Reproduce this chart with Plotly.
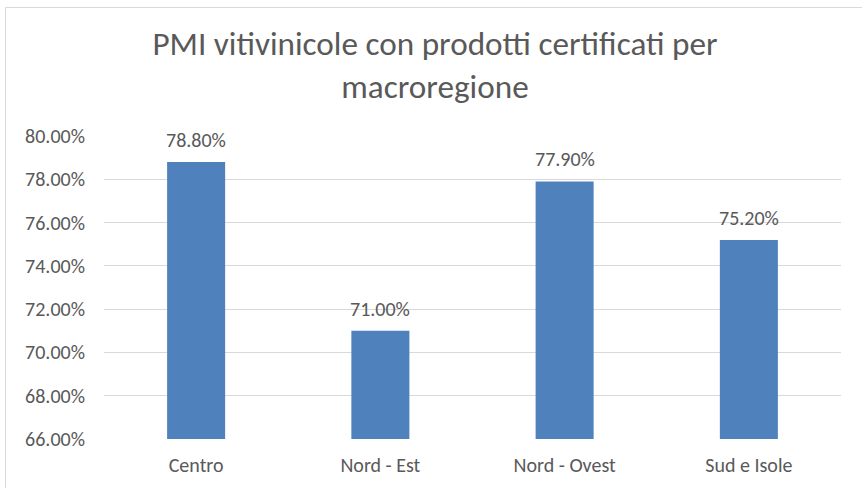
import plotly.graph_objects as go

# Share of wine SMEs with certified products, by macro-region
regions = ["Centro", "Nord - Est", "Nord - Ovest", "Sud e Isole"]
share_pct = [78.80, 71.00, 77.90, 75.20]
tick_values = [66, 68, 70, 72, 74, 76, 78, 80]
tick_labels = [f"{v:.2f}%" for v in tick_values]

W, H = 862, 488
FONT = "Calibri, Carlito, Lato, sans-serif"
TXT = "#595959"

fig = go.Figure(
    go.Bar(
        x=regions,
        y=share_pct,
        marker=dict(color="#4F81BD", line=dict(width=0)),
        cliponaxis=False,
        width=0.315,
    )
)

# value labels above each bar
for r, v in zip(regions, share_pct):
    fig.add_annotation(
        x=r,
        y=v,
        xref="x",
        yref="y",
        text=f"{v:.2f}%",
        showarrow=False,
        yanchor="bottom",
        yshift=8,
        font=dict(family=FONT, size=20, color=TXT),
    )

fig.update_layout(
    width=W,
    height=H,
    margin=dict(l=0, r=0, t=0, b=0, autoexpand=False),
    paper_bgcolor="white",
    plot_bgcolor="white",
    showlegend=False,
    font=dict(family=FONT, size=20, color=TXT),
    title=dict(
        text="PMI vitivinicole con prodotti certificati per<br>macroregione",
        x=435 / W,
        xanchor="center",
        y=1 - 55 / H,
        yanchor="top",
        font=dict(family=FONT, size=33.2, color=TXT),
        automargin=False,
    ),
    xaxis=dict(
        domain=[104 / W, 841 / W],
        automargin=False,
        showgrid=False,
        showline=False,
        ticks="",
        tickfont=dict(family=FONT, size=20, color=TXT),
        ticklabelstandoff=12,
    ),
    yaxis=dict(
        domain=[1 - 439 / H, 1 - 136 / H],
        automargin=False,
        range=[66, 80],
        tickvals=tick_values,
        ticktext=tick_labels,
        showgrid=True,
        gridcolor="#D9D9D9",
        gridwidth=1,
        zeroline=False,
        showline=False,
        ticks="",
        tickfont=dict(family=FONT, size=20, color=TXT),
        ticklabelstandoff=18,
    ),
    shapes=[
        dict(
            type="rect",
            xref="paper",
            yref="paper",
            x0=5.5 / W,
            x1=1.02,
            y0=-0.05,
            y1=1 - 7.5 / H,
            line=dict(color="#D9D9D9", width=1),
            fillcolor="rgba(0,0,0,0)",
            layer="below",
        )
    ],
)

fig.write_html("out.html")
